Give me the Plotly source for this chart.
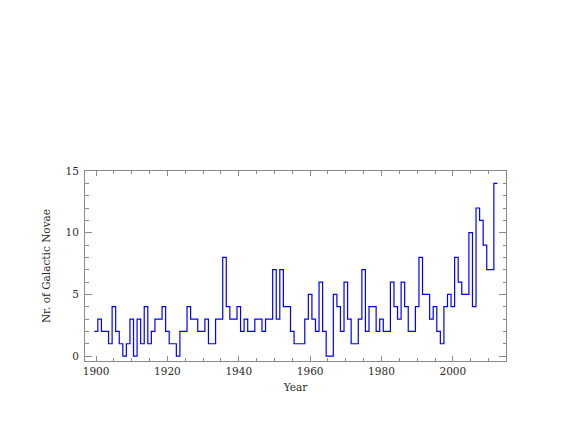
import plotly.graph_objects as go

# Galactic novae discovered per year, 1900-2012
years = list(range(1900, 2013))
novae = [2, 3, 2, 2, 1, 4, 2, 1, 0, 1,
         3, 0, 3, 1, 4, 1, 2, 3, 3, 4,
         2, 1, 1, 0, 2, 2, 4, 3, 3, 2,
         2, 3, 1, 1, 3, 3, 8, 4, 3, 3,
         4, 2, 3, 2, 2, 3, 3, 2, 3, 3,
         7, 3, 7, 4, 4, 2, 1, 1, 1, 3,
         5, 3, 2, 6, 2, 0, 0, 5, 4, 2,
         6, 3, 1, 1, 3, 7, 2, 4, 4, 2,
         3, 2, 2, 6, 4, 3, 6, 4, 2, 2,
         4, 8, 5, 5, 3, 4, 2, 1, 4, 5,
         4, 8, 6, 5, 5, 10, 4, 12, 11, 9,
         7, 7, 14]

# centred bins: edges half a year either side
x_edges = [y - 0.5 for y in years] + [years[-1] + 0.5]
y_steps = novae + [novae[-1]]

font = dict(family="DejaVu Serif", size=10.5, color="#2a2a2a")
frame = "#8a8a8a"

fig = go.Figure()
fig.add_trace(go.Scatter(x=x_edges, y=y_steps, mode="lines",
                         line=dict(color="#0000ff", width=1.2, shape="hv"),
                         showlegend=False, hoverinfo="skip"))

# the page body adds 8px, so margins are shifted to compensate
fig.update_layout(
    width=562, height=425,
    margin=dict(l=77, r=64, t=163, b=72),
    paper_bgcolor="white", plot_bgcolor="white",
    font=font,
)
fig.update_xaxes(
    range=[1896.9, 2014.9],
    tickvals=[1900, 1920, 1940, 1960, 1980, 2000],
    ticks="inside", ticklen=5, tickcolor=frame, tickwidth=1,
    minor=dict(dtick=5, tick0=1900, ticks="inside", ticklen=3, tickcolor=frame),
    showline=True, linecolor=frame, linewidth=1, mirror="allticks",
    showgrid=False, zeroline=False,
    title=dict(text="Year", font=font, standoff=8),
)
fig.update_yaxes(
    range=[-0.4, 15],
    tickvals=[0, 5, 10, 15],
    ticks="inside", ticklen=7, tickcolor=frame, tickwidth=1,
    minor=dict(dtick=1, tick0=0, ticks="inside", ticklen=3.5, tickcolor=frame),
    showline=True, linecolor=frame, linewidth=1, mirror="allticks",
    showgrid=False, zeroline=False,
    ticklabelstandoff=3,
    title=dict(text="Nr. of Galactic Novae", font=font, standoff=12),
)

fig.write_html("out.html")
